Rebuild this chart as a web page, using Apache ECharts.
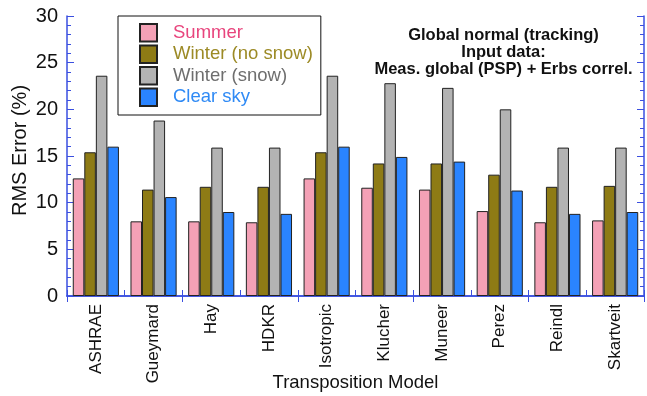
<!DOCTYPE html>
<html>
<head>
<meta charset="utf-8">
<script src="https://cdn.jsdelivr.net/npm/echarts@6/dist/echarts.min.js"></script>
<style>
  html, body { margin: 0; padding: 0; background: #fff; overflow: hidden; }
  #chart { width: 647px; height: 396px; }
</style>
</head>
<body>
<div id="chart"></div>
<script>
// Transposition models compared
const models = ['ASHRAE', 'Gueymard', 'Hay', 'HDKR', 'Isotropic', 'Klucher', 'Muneer', 'Perez', 'Reindl', 'Skartveit'];

// RMS error (%) per model for each data subset
const summer       = [12.6, 8.0, 8.0, 7.9, 12.6, 11.6, 11.4, 9.1, 7.9, 8.1];
const winterNoSnow = [15.4, 11.4, 11.7, 11.7, 15.4, 14.2, 14.2, 13.0, 11.7, 11.8];
const winterSnow   = [23.6, 18.8, 15.9, 15.9, 23.6, 22.8, 22.3, 20.0, 15.9, 15.9];
const clearSky     = [16.0, 10.6, 9.0, 8.8, 16.0, 14.9, 14.4, 11.3, 8.8, 9.0];

const yTicks = { min: 0, max: 30, interval: 5 };

const noteLines = ['Global normal (tracking)', 'Input data:', 'Meas. global (PSP) + Erbs correl.'];

const FONT = 'Liberation Sans, Arial, Helvetica, sans-serif';
const AXIS_BLUE = '#3a4fe0';

const seriesDefs = [
  { name: 'Summer',            data: summer,       fill: '#f4a1b6', text: '#e8457d' },
  { name: 'Winter (no snow)',  data: winterNoSnow, fill: '#8e7b15', text: '#9c8a25' },
  { name: 'Winter (snow)',     data: winterSnow,   fill: '#b3b3b3', text: '#6e6e6e' },
  { name: 'Clear sky',         data: clearSky,     fill: '#2a84ff', text: '#2f8af5' }
];

const chart = echarts.init(document.getElementById('chart'), null, { renderer: 'canvas' });

const catAxisCommon = {
  type: 'category',
  data: models,
  boundaryGap: true,
  axisLine: { show: true, lineStyle: { color: AXIS_BLUE, width: 1.5 } },
  axisTick: { show: true, inside: true, length: 6, alignWithLabel: false, lineStyle: { color: AXIS_BLUE } },
  splitLine: { show: false }
};

const valAxisCommon = {
  type: 'value',
  min: yTicks.min,
  max: yTicks.max,
  interval: yTicks.interval,
  axisLine: { show: true, lineStyle: { color: AXIS_BLUE, width: 1.5 } },
  axisTick: { show: true, inside: true, length: 7, lineStyle: { color: AXIS_BLUE } },
  minorTick: { show: true, splitNumber: 5, length: 4, lineStyle: { color: AXIS_BLUE } },
  splitLine: { show: false }
};

chart.setOption({
  animation: false,
  backgroundColor: '#fff',
  textStyle: { fontFamily: FONT },
  grid: { left: 67, right: 3, top: 16, bottom: 100, containLabel: false, outerBoundsMode: 'none' },
  graphic: [{
    type: 'text',
    x: 503.5,
    y: 26.5,
    z: 10,
    style: {
      text: noteLines.join('\n'),
      font: 'bold 16.5px ' + FONT,
      fill: '#111',
      align: 'center',
      verticalAlign: 'top',
      lineHeight: 17
    }
  }],
  legend: {
    orient: 'vertical',
    left: 118,
    top: 16,
    padding: [7, 8, 8, 21],
    itemWidth: 17,
    itemHeight: 17.5,
    itemGap: 2,
    backgroundColor: '#fff',
    borderColor: '#111',
    borderWidth: 1,
    icon: 'rect',
    data: seriesDefs.map(s => ({ name: s.name, textStyle: { color: s.text } })),
    textStyle: { fontFamily: FONT, fontSize: 18.5, lineHeight: 17.5, padding: [0, 0, 0, 11] }
  },
  xAxis: [
    Object.assign({}, catAxisCommon, {
      position: 'bottom',
      name: 'Transposition Model',
      nameLocation: 'middle',
      nameGap: 77,
      nameMoveOverlap: false,
      nameTextStyle: { fontFamily: FONT, fontSize: 18.5, color: '#111' },
      axisLabel: { rotate: 90, fontFamily: FONT, fontSize: 17, color: '#111', margin: 8 }
    }),
    Object.assign({}, catAxisCommon, {
      position: 'top',
      axisLabel: { show: false }
    })
  ],
  yAxis: [
    Object.assign({}, valAxisCommon, {
      position: 'left',
      name: 'RMS Error (%)',
      nameLocation: 'middle',
      nameGap: 37,
      nameMoveOverlap: false,
      nameRotate: 90,
      nameTextStyle: { fontFamily: FONT, fontSize: 20, color: '#111', padding: [0, 0, 0, 11] },
      axisLabel: { fontFamily: FONT, fontSize: 20, color: '#111', margin: 9 }
    }),
    Object.assign({}, valAxisCommon, {
      position: 'right',
      axisLabel: { show: false }
    })
  ],
  series: seriesDefs.map(s => ({
    name: s.name,
    type: 'bar',
    xAxisIndex: 0,
    yAxisIndex: 0,
    data: s.data,
    barGap: '0%',
    barCategoryGap: '20%',
    itemStyle: { color: s.fill, borderColor: '#222', borderWidth: 1 }
  }))
});
</script>
</body>
</html>
